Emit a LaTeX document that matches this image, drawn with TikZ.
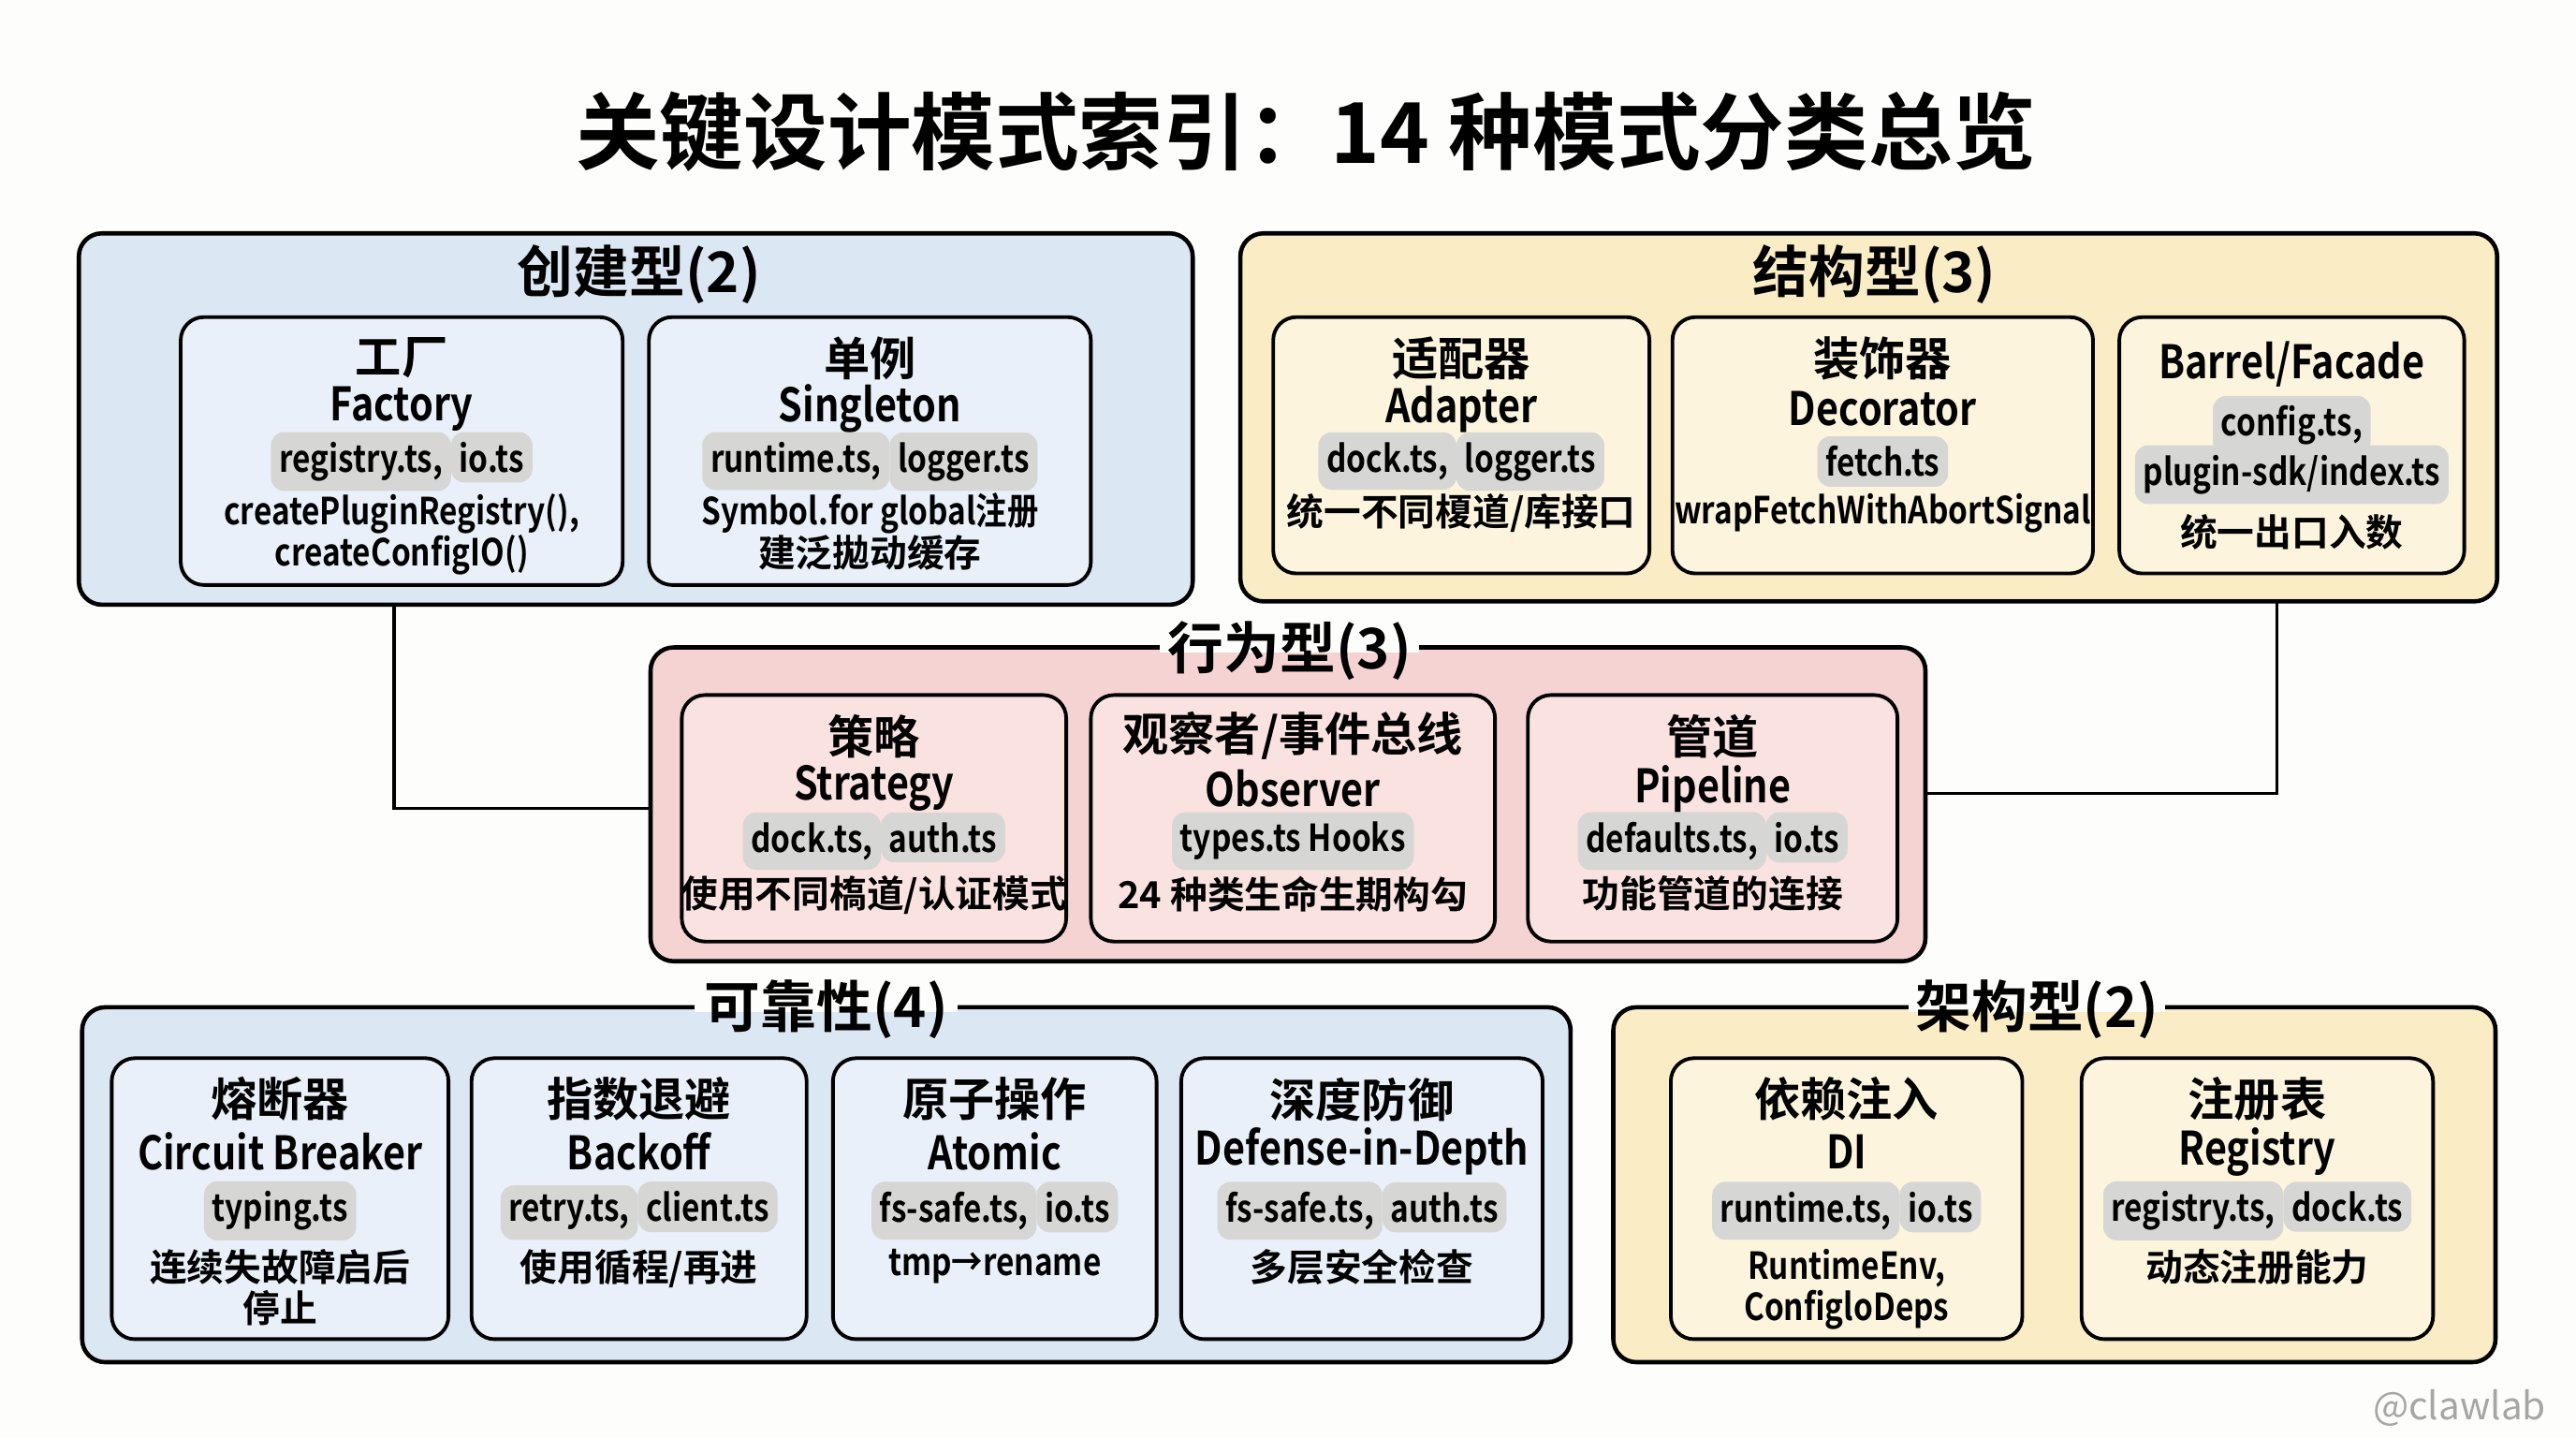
\documentclass[tikz,border=0pt]{standalone}
\usepackage{fontspec}
\setmainfont{Noto Sans CJK SC}[BoldFont={Noto Sans CJK SC Bold}]
\usetikzlibrary{positioning}

\definecolor{pagebg}{HTML}{FDFDFB}
\definecolor{grpblue}{HTML}{DCE7F4}
\definecolor{boxblue}{HTML}{E9F0F9}
\definecolor{grpyel}{HTML}{FAEDC6}
\definecolor{boxyel}{HTML}{FCF4DC}
\definecolor{grppink}{HTML}{F6D3D3}
\definecolor{boxpink}{HTML}{FAE2E0}
\definecolor{chipgray}{HTML}{D6D6D4}

\tikzset{
	group/.style={draw=black, line width=1.3pt, rounded corners=7pt},
	pbox/.style={draw=black, line width=1.1pt, rounded corners=7pt},
	ptext/.style={inner sep=0pt, text=black, font=\fontsize{14pt}{16pt}\selectfont\bfseries},
	dtext/.style={inner sep=0pt, text=black, align=center, font=\fontsize{11.3pt}{12.6pt}\selectfont\bfseries},
	chip/.style={fill=chipgray, rounded corners=4pt, inner xsep=2.5pt, inner ysep=3pt, anchor=base,
		font=\fontsize{11.3pt}{12pt}\selectfont\bfseries},
	gtitle/.style={font=\fontsize{17pt}{19pt}\selectfont\bfseries, text=black},
	link/.style={draw=black, line width=1pt}
}
\newcommand\cond[1]{\scalebox{0.84}[1]{#1}}
\newcommand\chip[1]{\tikz[baseline]\node[chip]{\cond{#1}};}

% row offsets: english, files, description
\newcommand\setrow[3]{\def\offen{#1}\def\offf{#2}\def\offd{#3}}
% #1 name, #2 left, #3 top, #4 right, #5 bottom, #6 fill, #7 cn, #8 en, #9 files
\newcommand\modebox[9]{%
	\path[pbox, fill=#6] (#2,#3) rectangle (#4,#5);
	\coordinate (#1) at ({(#2+#4)/2},#3);
	\node[ptext] (#1-cn) at ([yshift=-25*0.4986pt]#1) {#7};
	\node[ptext] (#1-en) at ([yshift=-\offen*0.4986pt]#1) {\cond{#8}};
	\node[inner sep=0pt] (#1-f) at ([yshift=-\offf*0.4986pt]#1) {#9};
	\modedesc{#1}%
}
\newcommand\modedesc[2]{\node[dtext, anchor=north] (#1-d) at ([yshift=-\offd*0.4986pt+6pt]#1) {#2};}

\begin{document}
\begin{tikzpicture}[x=0.01755cm, y=-0.01755cm]
	\fill[pagebg] (0,0) rectangle (1568,875);
	\useasboundingbox (0,0) rectangle (1568,875);
	
	% Title
	\node[font=\fontsize{25.5pt}{27pt}\selectfont\bfseries] (title) at (795,80) {关键设计模式索引：14 种模式分类总览};
	
	% Connectors
	\coordinate (c1) at (240,492);
	\coordinate (c2) at (1386,483);
	\draw[link] (240,356) -- (c1) -- (396,492);
	\draw[link] (1386,366) -- (c2) -- (1172,483);
	
	% Groups
	\path[group, fill=grpblue] (48,142) rectangle (726,368);
	\node[gtitle] (creat) at (389,167) {创建型(2)};
	\path[group, fill=grpyel] (755,142) rectangle (1520,366);
	\node[gtitle] (struct) at (1141,167) {结构型(3)};
	\path[group, fill=grppink] (396,394) rectangle (1172,585);
	\draw[pagebg, line width=3pt] (706,394) -- (864,394);
	\node[gtitle] (behav) at (785,396) {行为型(3)};
	\path[group, fill=grpblue] (50,613) rectangle (956,829);
	\draw[pagebg, line width=3pt] (423,613) -- (583,613);
	\node[gtitle] (relia) at (503,614) {可靠性(4)};
	\path[group, fill=grpyel] (982,613) rectangle (1519,829);
	\draw[pagebg, line width=3pt] (1162,613) -- (1318,613);
	\node[gtitle] (arch) at (1240,614) {架构型(2)};
	
	% Creational
	\setrow{56}{88}{119}
	\modebox{fac}{110}{193}{379}{356}{boxblue}{工厂}{Factory}{\chip{registry.ts,}\chip{io.ts}}{\cond{createPluginRegistry(),}\\ \cond{createConfigIO()}}
	\modebox{sing}{395}{193}{664}{356}{boxblue}{单例}{Singleton}{\chip{runtime.ts,}\chip{logger.ts}}{\cond{Symbol.for global注册}\\ 建泛拋动缓存}
	
	% Structural
	\modebox{adap}{775}{193}{1004}{349}{boxyel}{适配器}{Adapter}{\chip{dock.ts,}\chip{logger.ts}}{统一不同榎道/库接口}
	\modebox{deco}{1018}{193}{1274}{349}{boxyel}{装饰器}{Decorator}{\chip{fetch.ts}}{\cond{wrapFetchWithAbortSignal}}
	\path[pbox, fill=boxyel] (1290,193) rectangle (1500,349);
	\coordinate (barr) at (1395,193);
	\node[ptext] (barr-en) at ([yshift=-29*0.4986pt]barr) {\cond{Barrel/Facade}};
	\node[inner sep=0pt] (barr-f1) at ([yshift=-66*0.4986pt]barr) {\chip{config.ts,}};
	\node[inner sep=0pt] (barr-f2) at ([yshift=-96*0.4986pt]barr) {\chip{plugin-sdk/index.ts}};
	\node[dtext] (barr-d) at ([yshift=-131*0.4986pt]barr) {统一出口入数};
	
	% Behavioral
	\setrow{57}{89}{122}
	\modebox{strat}{415}{423}{649}{573}{boxpink}{策略}{Strategy}{\chip{dock.ts,}\chip{auth.ts}}{使用不同槗道/认证模式}
	\modebox{obs}{664}{423}{910}{573}{boxpink}{观察者/事件总线}{Observer}{\chip{types.ts Hooks}}{24 种类生命生期构勾}
	\modebox{pipe}{930}{423}{1155}{573}{boxpink}{管道}{Pipeline}{\chip{defaults.ts,}\chip{io.ts}}{功能管道的连接}
	
	% Reliability
	\setrow{57}{93}{128}
	\modebox{circ}{68}{644}{273}{815}{boxblue}{熔断器}{Circuit Breaker}{\chip{typing.ts}}{连续失故障启后\\ 停止}
	\modebox{back}{287}{644}{491}{815}{boxblue}{指数退避}{Backoff}{\chip{retry.ts,}\chip{client.ts}}{使用循程/再进}
	\modebox{atom}{507}{644}{704}{815}{boxblue}{原子操作}{Atomic}{\chip{fs-safe.ts,}\chip{io.ts}}{\cond{tmp→rename}}
	\modebox{def}{719}{644}{939}{815}{boxblue}{深度防御}{Defense-in-Depth}{\chip{fs-safe.ts,}\chip{auth.ts}}{多层安全检查}
	
	% Architectural
	\modebox{di}{1017}{644}{1231}{815}{boxyel}{依赖注入}{DI}{\chip{runtime.ts,}\chip{io.ts}}{\cond{RuntimeEnv,}\\ \cond{ConfigloDeps}}
	\modebox{reg}{1267}{644}{1481}{815}{boxyel}{注册表}{Registry}{\chip{registry.ts,}\chip{dock.ts}}{动态注册能力}
	
	\node[text=black!35, font=\fontsize{11.5pt}{13pt}\selectfont] (mark) at (1497,857) {@clawlab};
\end{tikzpicture}
\end{document}
